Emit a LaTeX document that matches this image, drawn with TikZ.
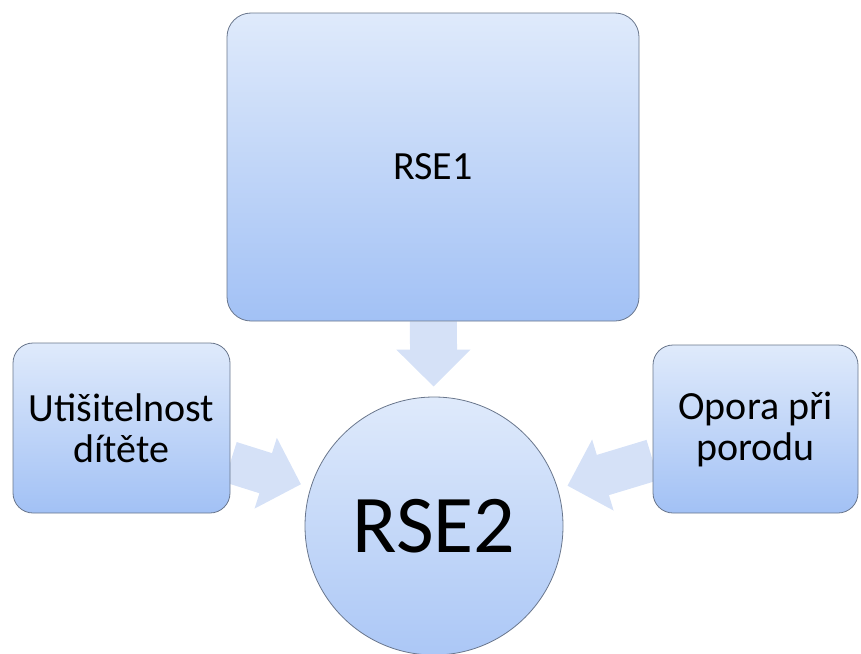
\documentclass[tikz,border=0pt]{standalone}
\usepackage{fontspec}
\setmainfont{Carlito}
\usetikzlibrary{arrows.meta,shapes.geometric}
\pgfdeclarelayer{bg}
\pgfsetlayers{bg,main}
\definecolor{boxtop}{RGB}{223,234,251}
\definecolor{boxbot}{RGB}{162,193,245}
\definecolor{boxedge}{RGB}{105,118,140}
\definecolor{arrowfill}{RGB}{213,225,247}
\tikzset{
  box/.style={draw=boxedge, line width=0.8pt, rounded corners=24pt,
    top color=boxtop, bottom color=boxbot, text=black, align=center,
    inner sep=0pt},
  hub/.style={circle, draw=boxedge, line width=0.8pt,
    top color=boxtop, bottom color=boxbot!90!white, text=black,
    minimum size=258pt, inner sep=0pt},
  blockarrow/.style={draw=arrowfill, line width=#1,
    -{Triangle[length={37pt 0 0}, width={72pt 0 0}]},
    shorten >=10pt},
}
\begin{document}
\begin{tikzpicture}[x=1pt,y=-1pt]
\useasboundingbox (0,0) rectangle (861,653);
\node[box, minimum width=412pt, minimum height=308pt,
  font=\fontsize{40}{42}\selectfont] (rse1) at (433,167) {RSE1};
\node[box, rounded corners=20pt, minimum width=217pt, minimum height=170pt,
  font=\fontsize{40}{41}\selectfont] (left) at (121.5,428)
  {Utišitelnost\\dítěte};
\node[box, rounded corners=20pt, minimum width=205pt, minimum height=168pt,
  font=\fontsize{40}{41}\selectfont] (right) at (755.5,429)
  {Opora při\\porodu};
\node[hub, font=\fontsize{82}{84}\selectfont] (rse2) at (434,526) {RSE2};
\begin{pgfonlayer}{bg}
  \draw[blockarrow=47pt] (rse1) -- (rse2);
  \draw[blockarrow=42pt] (left) -- (rse2);
  \draw[blockarrow=42pt] (right) -- (rse2);
\end{pgfonlayer}
\end{tikzpicture}
\end{document}
